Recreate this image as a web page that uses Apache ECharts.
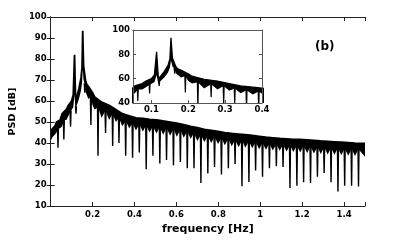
<!DOCTYPE html>
<html><head><meta charset="utf-8">
<script src="https://cdn.jsdelivr.net/npm/echarts@6/dist/echarts.min.js"></script>
<style>html,body{margin:0;padding:0;background:#fff}#c{width:403px;height:240px}</style>
</head><body><div id="c"></div>
<script>
// Band of the PSD (upper and lower edge of the dense black trace), frequency in Hz, level in dB
const bandF   = [0.000,0.010,0.020,0.028,0.045,0.055,0.075,0.085,0.100,0.108,0.114,0.119,0.125,0.135,0.145,0.150,0.153,0.157,0.166,0.172,0.180,0.200,0.210,0.243,0.279,0.311,0.342,0.375,0.407,0.440,0.472,0.505,0.537,0.570,0.602,0.635,0.668,0.700,0.733,0.766,0.799,0.831,0.864,0.897,0.929,0.962,0.995,1.027,1.060,1.093,1.126,1.158,1.191,1.224,1.256,1.289,1.322,1.354,1.387,1.420,1.452,1.500];
const bandTop = [46,47,48,50,51,54,56,58,60,63,82,60,62,66,71,76,93.5,77,70,68,67,64,62,59.5,58,56,54,53,52,51.7,51.3,51,50.5,50,49.5,48.8,48,47.3,46.5,46,45.5,45,44.6,44.3,44,43.6,43.2,42.8,42.5,42.2,42,41.8,41.7,41.5,41.3,41,40.8,40.6,40.4,40.2,40,39.8];
const bandLow = [41,43,44,45,47,48,51,53,55,57,63,55,58,61,65,69,75,70,64.5,63,61,58,56,52,51,50,48,47,46,45.5,45,44.5,44,43.5,43,42.5,42,41,40.5,40,39.5,39,38.5,38,37.8,37.5,37,36.8,36.5,36.3,36,35.8,35.5,35.3,35,34.8,34.6,34.4,34.2,34,33.8,33.5];
// Periodic deep dips: frequency (Hz), level where the trace narrows into the dip (dB), and dip bottom (dB)
const dipF   = [0.035,0.063,0.095,0.121,0.163,0.192,0.226,0.262,0.296,0.326,0.358,0.391,0.423,0.456,0.488,0.521,0.553,0.586,0.619,0.652,0.684,0.717,0.750,0.782,0.815,0.848,0.880,0.913,0.946,0.978,1.011,1.044,1.077,1.109,1.142,1.175,1.207,1.240,1.273,1.305,1.338,1.371,1.403,1.436,1.469];
const neckDb = [47,51,55,57,68,62,57,55.5,54,52,50.5,49.5,49,48.5,48,47.7,47.3,46.8,46.3,45.6,44.8,44,43.4,42.9,42.4,42,41.6,41.3,41,40.6,40.2,39.8,39.5,39.3,39.1,38.9,38.8,38.6,38.3,38.1,37.9,37.7,37.5,37.3,37.1];
const dipDb  = [37.8,41.7,47.8,54,64,48.6,34,44.8,38.6,40,34,33,35.5,27.5,34,30.3,32,29.5,31,28,28,21,25.5,28.6,25,28,30,19.4,21.5,27,24,28,29,28.6,18.6,19.7,21.3,21,24,25.7,21.3,17,19.7,19.7,19.3];
// Tick labels
const mainXLabels = [0.2,0.4,0.6,0.8,1,1.2,1.4];
const insetXLabels = [0.1,0.2,0.3,0.4];

const FONT = 'DejaVu Sans';
const topPairs = bandF.map((f,i)=>[f,bandTop[i]]);
const lowPairs = bandF.map((f,i)=>[f,bandLow[i]]).concat(dipF.map((f,i)=>[f,neckDb[i]])).sort((a,b)=>a[0]-b[0]);
const dipData = dipF.map((f,i)=>[f, dipDb[i], neckDb[i]]);
function dipRenderer(wTop, wBot){
  return function(params, api){
    const f=api.value(0), lo=api.value(1), up=api.value(2);
    const a=api.coord([f,lo]), b=api.coord([f,up]);
    return {type:'polygon', shape:{points:[[b[0]-wTop,b[1]-1],[b[0]+wTop,b[1]-1],[a[0]+wBot,a[1]],[a[0]-wBot,a[1]]]}, style:{fill:'#000'}};
  };
}
const lbl = {fontFamily:FONT, fontWeight:'bold', fontSize:8.5, color:'#000'};
const axLine = {show:true, lineStyle:{color:'#222', width:1}};
const tickM = {inside:true, length:4, lineStyle:{color:'#222'}};
const chart = echarts.init(document.getElementById('c'), null, {renderer:'canvas'});
chart.setOption({
  animation:false,
  backgroundColor:'#fff',
  grid:[
    {left:48, top:17, width:317, height:195, containLabel:false},
    {left:133, top:30, width:129, height:73, show:true, backgroundColor:'#fff', borderWidth:0, z:5}
  ],
  xAxis:[
    {type:'value', gridIndex:0, min:0, max:1.5, interval:0.2, axisLine:axLine, z:10,
     axisTick:tickM, splitLine:{show:false},
     axisLabel:{...lbl, margin:4, formatter:v=> mainXLabels.some(t=>Math.abs(t-v)<1e-6) ? String(Math.round(v*10)/10) : ''},
     name:'frequency [Hz]', nameLocation:'middle', nameGap:16, nameTextStyle:{fontFamily:FONT, fontWeight:'bold', fontSize:11, color:'#000'}},
    {type:'value', gridIndex:0, position:'top', min:0, max:1.5, interval:0.2, axisLine:axLine, z:10,
     axisTick:tickM, axisLabel:{show:false}, splitLine:{show:false}},
    {type:'value', gridIndex:1, min:0.05, max:0.4, axisLine:{show:true, lineStyle:{color:'#555'}}, z:9,
     axisTick:{inside:true, length:3, customValues:insetXLabels, lineStyle:{color:'#555'}}, splitLine:{show:false},
     axisLabel:{...lbl, margin:2, customValues:insetXLabels, formatter:v=>String(v)}},
    {type:'value', gridIndex:1, position:'top', min:0.05, max:0.4, axisLine:{show:true, lineStyle:{color:'#555'}}, z:9,
     axisTick:{show:false}, axisLabel:{show:false}, splitLine:{show:false}}
  ],
  yAxis:[
    {type:'value', gridIndex:0, min:10, max:100, interval:10, axisLine:axLine, z:10,
     axisTick:tickM, splitLine:{show:false},
     axisLabel:{...lbl, margin:4},
     name:'PSD [dB]', nameLocation:'middle', nameGap:30, nameRotate:90, nameTextStyle:{fontFamily:FONT, fontWeight:'bold', fontSize:9.5, color:'#000'}},
    {type:'value', gridIndex:0, position:'right', min:10, max:100, interval:10, axisLine:axLine, z:10,
     axisTick:tickM, axisLabel:{show:false}, splitLine:{show:false}},
    {type:'value', gridIndex:1, min:40, max:100, interval:20, axisLine:{show:true, lineStyle:{color:'#555'}}, z:9,
     axisTick:{inside:true, length:3, lineStyle:{color:'#555'}}, splitLine:{show:false},
     axisLabel:{...lbl, margin:3}},
    {type:'value', gridIndex:1, position:'right', min:40, max:100, interval:20, axisLine:{show:true, lineStyle:{color:'#555'}}, z:9,
     axisTick:{inside:true, length:3, lineStyle:{color:'#555'}}, axisLabel:{show:false}, splitLine:{show:false}}
  ],
  series:[
    {type:'line', xAxisIndex:0, yAxisIndex:0, data:topPairs, symbol:'none', lineStyle:{color:'#000', width:1.8}, areaStyle:{color:'#000', opacity:1}, z:2},
    {type:'line', xAxisIndex:0, yAxisIndex:0, data:lowPairs, symbol:'none', lineStyle:{width:0}, areaStyle:{color:'#fff', opacity:1}, z:3},
    {type:'custom', xAxisIndex:0, yAxisIndex:0, data:dipData, renderItem:dipRenderer(1.2, 0.7), clip:true, z:4},
    {type:'line', xAxisIndex:2, yAxisIndex:2, data:topPairs, symbol:'none', lineStyle:{color:'#000', width:1.3}, areaStyle:{color:'#000', opacity:1}, z:6, clip:true},
    {type:'line', xAxisIndex:2, yAxisIndex:2, data:lowPairs, symbol:'none', lineStyle:{width:0}, areaStyle:{color:'#fff', opacity:1}, z:7, clip:true},
    {type:'custom', xAxisIndex:2, yAxisIndex:2, data:dipData, renderItem:dipRenderer(1.1, 0.6), clip:true, z:8}
  ],
  graphic:[
    {type:'text', left:315, top:41, z:20, style:{text:'(b)', fontFamily:FONT, fontWeight:'bold', fontSize:12, fill:'#000'}}
  ]
});
</script></body></html>
